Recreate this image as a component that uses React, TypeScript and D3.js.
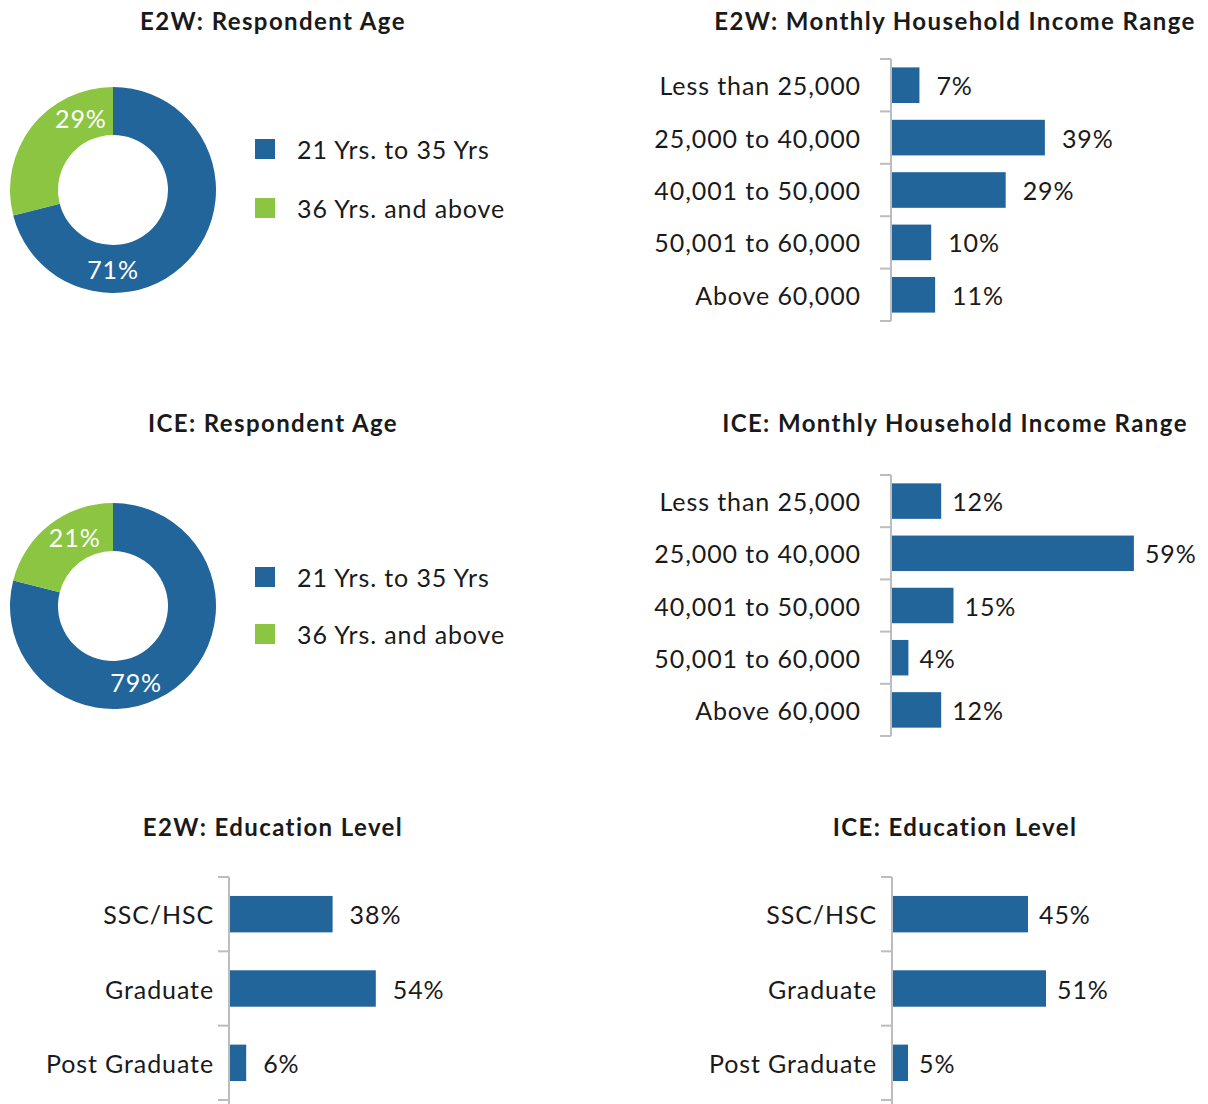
import React, { useEffect, useRef } from 'react';
import * as d3 from 'd3';

// age split (donuts)
const ageGroups = ['21 Yrs. to 35 Yrs', '36 Yrs. and above'];
const e2wAge = [71, 29];
const iceAge = [79, 21];

// monthly household income
const incomeRanges = ['Less than 25,000', '25,000 to 40,000', '40,001 to 50,000', '50,001 to 60,000', 'Above 60,000'];
const e2wIncome = [7, 39, 29, 10, 11];
const iceIncome = [12, 59, 15, 4, 12];

// education
const eduLevels = ['SSC/HSC', 'Graduate', 'Post Graduate'];
const e2wEducation = [38, 54, 6];
const iceEducation = [45, 51, 5];

const BLUE = '#22659a';
const GREEN = '#8bc541';
const FONT = 'Lato, "Open Sans", sans-serif';
const TEXT = '#1a1a1a';
const FS = 25;
const LS = 0.9;

const W = 1208;
const H = 1104;

const App = () => {
  const ref = useRef<SVGSVGElement>(null);

  useEffect(() => {
    document.body.style.margin = '0';
    const svg = d3.select(ref.current);
    svg.selectAll('*').remove();
    svg.attr('width', W).attr('height', H).style('font-family', FONT);

    const title = (x: number, y: number, text: string) => {
      svg.append('text')
        .attr('x', x).attr('y', y)
        .attr('text-anchor', 'middle')
        .attr('dominant-baseline', 'central')
        .attr('font-size', 24)
        .attr('font-weight', 700)
        .attr('letter-spacing', 1.4)
        .attr('fill', TEXT)
        .text(text);
    };

    // donut + legend
    const donut = (cx: number, cy: number, values: number[], labelAngles: number[], legendY: number[]) => {
      const g = svg.append('g').attr('transform', `translate(${cx},${cy})`);
      const color = d3.scaleOrdinal<string, string>().domain(ageGroups).range([BLUE, GREEN]);
      const pie = d3.pie<number>().sort(null).value(d => d);
      const arc = d3.arc<d3.PieArcDatum<number>>().innerRadius(55).outerRadius(103);
      const arcs = pie(values);

      g.selectAll('path')
        .data(arcs)
        .enter()
        .append('path')
        .attr('d', arc)
        .attr('fill', (d, i) => color(ageGroups[i]));

      g.selectAll('text')
        .data(arcs)
        .enter()
        .append('text')
        .attr('x', (d, i) => 79 * Math.sin(labelAngles[i] * Math.PI / 180))
        .attr('y', (d, i) => -79 * Math.cos(labelAngles[i] * Math.PI / 180))
        .attr('text-anchor', 'middle')
        .attr('dominant-baseline', 'central')
        .attr('font-size', FS)
        .attr('letter-spacing', LS)
        .attr('fill', '#fff')
        .text(d => `${d.data}%`);

      const leg = svg.append('g');
      ageGroups.forEach((name, i) => {
        leg.append('rect')
          .attr('x', 255).attr('y', legendY[i] - 10)
          .attr('width', 20).attr('height', 20)
          .attr('fill', color(name));
        leg.append('text')
          .attr('x', 297).attr('y', legendY[i])
          .attr('dominant-baseline', 'central')
          .attr('font-size', FS)
          .attr('letter-spacing', LS)
          .attr('fill', TEXT)
          .text(name);
      });
    };

    // horizontal bar chart
    const bars = (opts: {
      categories: string[]; values: number[]; axisX: number; top: number; bottom: number; axisEnd: number;
      width: number; padding: number; labelGap: number; valueGap: number;
    }) => {
      const { categories, values, axisX, top, bottom, axisEnd, width, padding, labelGap, valueGap } = opts;
      const x = d3.scaleLinear().domain([0, 100]).range([axisX + 1, axisX + 1 + width]);
      const y = d3.scaleBand<string>()
        .domain(categories)
        .range([top, bottom])
        .paddingInner(padding)
        .paddingOuter(padding / 2);
      const g = svg.append('g');

      g.selectAll('rect')
        .data(values)
        .enter()
        .append('rect')
        .attr('x', x(0))
        .attr('y', (d, i) => y(categories[i])!)
        .attr('width', d => x(d) - x(0))
        .attr('height', y.bandwidth())
        .attr('fill', BLUE);

      g.selectAll('.val')
        .data(values)
        .enter()
        .append('text')
        .attr('class', 'val')
        .attr('x', d => x(d) + valueGap)
        .attr('y', (d, i) => y(categories[i])! + y.bandwidth() / 2)
        .attr('dominant-baseline', 'central')
        .attr('font-size', FS)
        .attr('letter-spacing', LS)
        .attr('fill', TEXT)
        .text(d => `${d}%`);

      g.selectAll('.cat')
        .data(categories)
        .enter()
        .append('text')
        .attr('class', 'cat')
        .attr('x', axisX - labelGap)
        .attr('y', d => y(d)! + y.bandwidth() / 2)
        .attr('text-anchor', 'end')
        .attr('dominant-baseline', 'central')
        .attr('font-size', FS)
        .attr('letter-spacing', LS)
        .attr('fill', TEXT)
        .text(d => d);

      // axis line with category separators
      const step = y.step();
      const ticks = d3.range(categories.length + 1).map(i => top + i * step);
      g.append('line')
        .attr('x1', axisX).attr('x2', axisX)
        .attr('y1', top).attr('y2', axisEnd)
        .attr('stroke', '#bdbdbd').attr('stroke-width', 2);
      g.selectAll('.tick')
        .data(ticks)
        .enter()
        .append('line')
        .attr('class', 'tick')
        .attr('x1', axisX - 11).attr('x2', axisX)
        .attr('y1', d => d).attr('y2', d => d)
        .attr('stroke', '#bdbdbd').attr('stroke-width', 2);
    };

    title(273, 20, 'E2W: Respondent Age');
    donut(113, 190, e2wAge, [180, -24], [149, 208]);

    title(955, 20, 'E2W: Monthly Household Income Range');
    bars({ categories: incomeRanges, values: e2wIncome, axisX: 891, top: 59, bottom: 321, axisEnd: 321, width: 392, padding: 0.32, labelGap: 30, valueGap: 17 });

    title(273, 422, 'ICE: Respondent Age');
    donut(113, 606, iceAge, [163, -29], [577, 634]);

    title(955, 422, 'ICE: Monthly Household Income Range');
    bars({ categories: incomeRanges, values: iceIncome, axisX: 891, top: 475, bottom: 736, axisEnd: 736, width: 410, padding: 0.32, labelGap: 30, valueGap: 11 });

    title(273, 826, 'E2W: Education Level');
    bars({ categories: eduLevels, values: e2wEducation, axisX: 229, top: 877, bottom: 1100, axisEnd: 1104, width: 270, padding: 0.51, labelGap: 15, valueGap: 17 });

    title(955, 826, 'ICE: Education Level');
    bars({ categories: eduLevels, values: iceEducation, axisX: 892, top: 877, bottom: 1100, axisEnd: 1104, width: 300, padding: 0.51, labelGap: 15, valueGap: 11 });
  }, []);

  return <svg ref={ref} style={{ display: 'block' }} />;
};

export default App;
